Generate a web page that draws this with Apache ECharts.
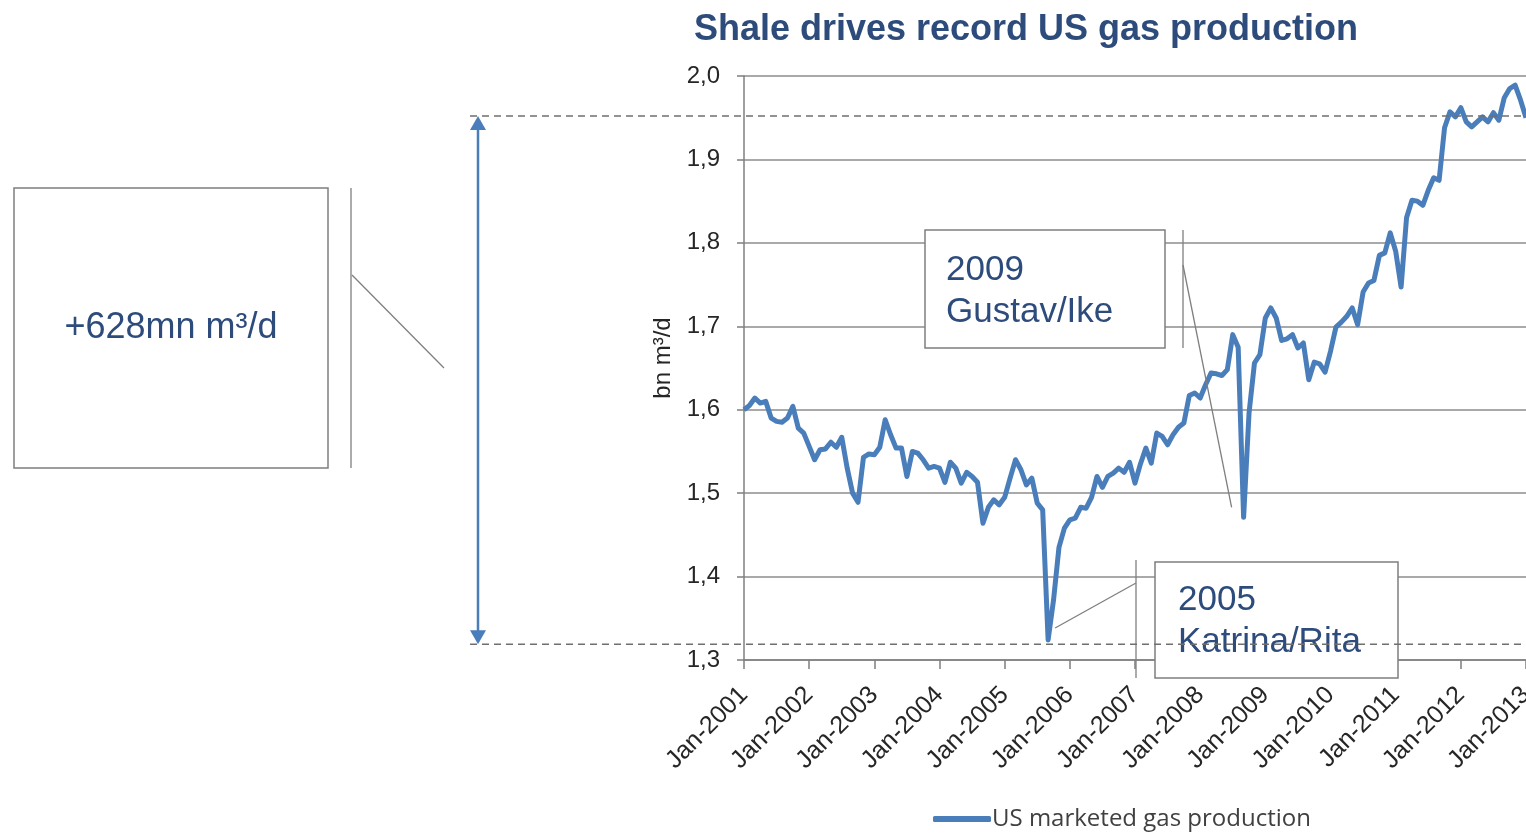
<!DOCTYPE html>
<html>
<head>
<meta charset="utf-8">
<script src="https://cdn.jsdelivr.net/npm/echarts@6/dist/echarts.min.js"></script>
<style>
html,body{margin:0;padding:0;background:#fff;overflow:hidden;}
#chart{width:1526px;height:835px;}
</style>
</head>
<body>
<div id="chart"></div>
<script>
// ---------- DATA ----------
const title = 'Shale drives record US gas production';
const seriesName = 'US marketed gas production';
const yAxisName = 'bn m\u00B3/d';
const calloutText = '+628mn m\u00B3/d';
const monthNames = ['Jan','Feb','Mar','Apr','May','Jun','Jul','Aug','Sep','Oct','Nov','Dec'];
const startYear = 2001;
const endYear = 2013;
const yTicks = [1.3, 1.4, 1.5, 1.6, 1.7, 1.8, 1.9, 2.0];

// Monthly values, Jan-2001 .. Jan-2013 (bn m3/d)
const production = [
  1.600,1.605,1.614,1.608,1.610,1.590,1.586,1.585,1.590,1.604,1.578,1.572, // 2001
  1.556,1.540,1.552,1.553,1.561,1.555,1.567,1.530,1.500,1.489,1.543,1.547, // 2002
  1.546,1.555,1.588,1.570,1.554,1.554,1.520,1.550,1.548,1.540,1.530,1.532, // 2003
  1.530,1.513,1.537,1.530,1.512,1.525,1.520,1.513,1.464,1.483,1.492,1.486, // 2004
  1.495,1.518,1.540,1.528,1.510,1.518,1.488,1.480,1.324,1.372,1.435,1.458, // 2005
  1.468,1.470,1.483,1.482,1.495,1.520,1.507,1.520,1.524,1.530,1.525,1.537, // 2006
  1.512,1.535,1.554,1.536,1.572,1.568,1.558,1.570,1.579,1.584,1.617,1.620, // 2007
  1.614,1.630,1.644,1.643,1.641,1.648,1.690,1.675,1.471,1.596,1.656,1.666, // 2008
  1.710,1.722,1.710,1.683,1.685,1.690,1.674,1.680,1.636,1.657,1.655,1.645, // 2009
  1.670,1.699,1.705,1.712,1.722,1.702,1.741,1.752,1.755,1.785,1.788,1.812, // 2010
  1.790,1.747,1.830,1.851,1.850,1.845,1.863,1.878,1.875,1.938,1.957,1.951, // 2011
  1.962,1.945,1.939,1.945,1.951,1.945,1.956,1.947,1.974,1.985,1.989,1.971, // 2012
  1.950                                                                     // Jan-2013
];

// Reference levels for the range arrow (dashed lines)
const lowLevel = 1.319;
const highLevel = 1.952;
const katrinaIndex = 56;   // Sep-2005
const gustavIndex = 92;    // Sep-2008
const annotation2005 = ['2005', 'Katrina/Rita'];
const annotation2009 = ['2009', 'Gustav/Ike'];

// ---------- BUILD ----------
const categories = [];
for (let y = startYear; y <= endYear; y++) {
  for (let m = 0; m < 12; m++) {
    if (categories.length < production.length) categories.push(monthNames[m] + '-' + y);
  }
}

const BLUE = '#4A7EBB';
const TEXTBLUE = '#2D4C7C';
const GRAY = '#7f7f7f';

const chart = echarts.init(document.getElementById('chart'), null, {renderer: 'canvas', width: 1526, height: 835});

chart.setOption({
  animation: false,
  backgroundColor: '#fff',
  title: {
    text: title,
    left: 1021, textAlign: 'center',
    top: 7,
    textStyle: {fontFamily: 'Liberation Sans, Arial', fontSize: 36, fontWeight: 'bold', color: TEXTBLUE}
  },
  grid: {left: 744, right: 0, top: 76, bottom: 175, containLabel: false, outerBoundsMode: 'none'},
  legend: {
    data: [seriesName],
    left: 928, top: 802,
    itemWidth: 58, itemHeight: 6,
    icon: 'roundRect',
    textStyle: {fontFamily: 'Open Sans', fontSize: 24, color: '#404040', padding: [0,0,0,-4]}
  },
  xAxis: {
    type: 'category',
    data: categories,
    boundaryGap: false,
    axisLine: {lineStyle: {color: GRAY, width: 1.5}},
    axisTick: {show: true, interval: 11, length: 9, lineStyle: {color: GRAY, width: 1.5}},
    axisLabel: {
      interval: 11, rotate: 45, margin: 31,
      fontFamily: 'Liberation Sans, Arial', fontSize: 25, color: '#262626'
    },
    splitLine: {show: false}
  },
  yAxis: {
    type: 'value',
    min: yTicks[0], max: yTicks[yTicks.length - 1], interval: 0.1,
    name: yAxisName, nameLocation: 'middle', nameRotate: 90, nameGap: 66,
    nameTextStyle: {fontFamily: 'Liberation Sans, Arial', fontSize: 24, color: '#262626', padding: [0, 0, 0, 20]},
    axisLine: {show: true, lineStyle: {color: GRAY, width: 1.5}},
    axisTick: {show: true, length: 7, lineStyle: {color: GRAY, width: 1.5}},
    axisLabel: {
      margin: 24,
      fontFamily: 'Liberation Sans, Arial', fontSize: 24, color: '#262626',
      formatter: v => v.toFixed(1).replace('.', ',')
    },
    splitLine: {show: true, lineStyle: {color: '#8c8c8c', width: 1.5}}
  },
  series: [{
    name: seriesName,
    type: 'line',
    data: production,
    showSymbol: false,
    symbol: 'none',
    lineStyle: {color: BLUE, width: 5, join: 'round'},
    itemStyle: {color: BLUE},
    z: 5
  }]
});

// ---------- ANNOTATIONS (data-linked ends via the library's scales) ----------
const yHigh = chart.convertToPixel({yAxisIndex: 0}, highLevel);
const yLow = chart.convertToPixel({yAxisIndex: 0}, lowLevel);
const kat = chart.convertToPixel({gridIndex: 0}, [katrinaIndex, production[katrinaIndex]]);
const gus = chart.convertToPixel({gridIndex: 0}, [gustavIndex, production[gustavIndex]]);

const arrowX = 478;
const ah = 14, aw = 8;
const boxStroke = {stroke: GRAY, lineWidth: 1.5, fill: '#fff'};
const lineStroke = {stroke: GRAY, lineWidth: 1.3};
const annFont = {fontFamily: 'Liberation Sans, Arial', fontSize: 35, fill: TEXTBLUE};

chart.setOption({
  graphic: [
    // dashed reference lines
    {type: 'line', z: 120, shape: {x1: 470, y1: yHigh, x2: 1526, y2: yHigh},
      style: {stroke: '#6f6f6f', lineWidth: 1.5, lineDash: [7, 5]}},
    {type: 'line', z: 120, shape: {x1: 470, y1: yLow, x2: 1526, y2: yLow},
      style: {stroke: '#6f6f6f', lineWidth: 1.5, lineDash: [7, 5]}},
    // double arrow
    {type: 'line', z: 121, shape: {x1: arrowX, y1: yHigh + 6, x2: arrowX, y2: yLow - 6},
      style: {stroke: BLUE, lineWidth: 2.5}},
    {type: 'polygon', z: 121, shape: {points: [[arrowX, yHigh], [arrowX - aw, yHigh + ah], [arrowX + aw, yHigh + ah]]},
      style: {fill: BLUE}},
    {type: 'polygon', z: 121, shape: {points: [[arrowX, yLow], [arrowX - aw, yLow - ah], [arrowX + aw, yLow - ah]]},
      style: {fill: BLUE}},
    // left callout box
    {type: 'rect', z: 100, shape: {x: 14, y: 188, width: 314, height: 280}, style: boxStroke},
    {type: 'text', z: 101, x: 171, y: 328,
      style: {text: calloutText, fontFamily: 'Liberation Sans, Arial', fontSize: 36, fill: TEXTBLUE,
              textAlign: 'center', textVerticalAlign: 'middle'}},
    {type: 'line', z: 100, shape: {x1: 351, y1: 188, x2: 351, y2: 468}, style: lineStroke},
    {type: 'line', z: 100, shape: {x1: 352, y1: 275, x2: 444, y2: 368}, style: lineStroke},
    // 2009 Gustav/Ike callout
    {type: 'rect', z: 100, shape: {x: 925, y: 230, width: 240, height: 118}, style: boxStroke},
    {type: 'text', z: 101, x: 946, y: 270, style: Object.assign({text: annotation2009[0], textVerticalAlign: 'middle'}, annFont)},
    {type: 'text', z: 101, x: 946, y: 312, style: Object.assign({text: annotation2009[1], textVerticalAlign: 'middle'}, annFont)},
    {type: 'line', z: 100, shape: {x1: 1183, y1: 230, x2: 1183, y2: 348}, style: lineStroke},
    {type: 'line', z: 100, shape: {x1: 1183, y1: 265, x2: gus[0] - 12, y2: gus[1] - 10}, style: lineStroke},
    // 2005 Katrina/Rita callout
    {type: 'rect', z: 100, shape: {x: 1155, y: 562, width: 243, height: 116}, style: boxStroke},
    {type: 'text', z: 101, x: 1178, y: 600, style: Object.assign({text: annotation2005[0], textVerticalAlign: 'middle'}, annFont)},
    {type: 'text', z: 101, x: 1178, y: 642, style: Object.assign({text: annotation2005[1], textVerticalAlign: 'middle'}, annFont)},
    {type: 'line', z: 100, shape: {x1: 1136, y1: 560, x2: 1136, y2: 678}, style: lineStroke},
    {type: 'line', z: 100, shape: {x1: 1136, y1: 583, x2: kat[0] + 7, y2: kat[1] - 12}, style: lineStroke}
  ]
});
</script>
</body>
</html>
